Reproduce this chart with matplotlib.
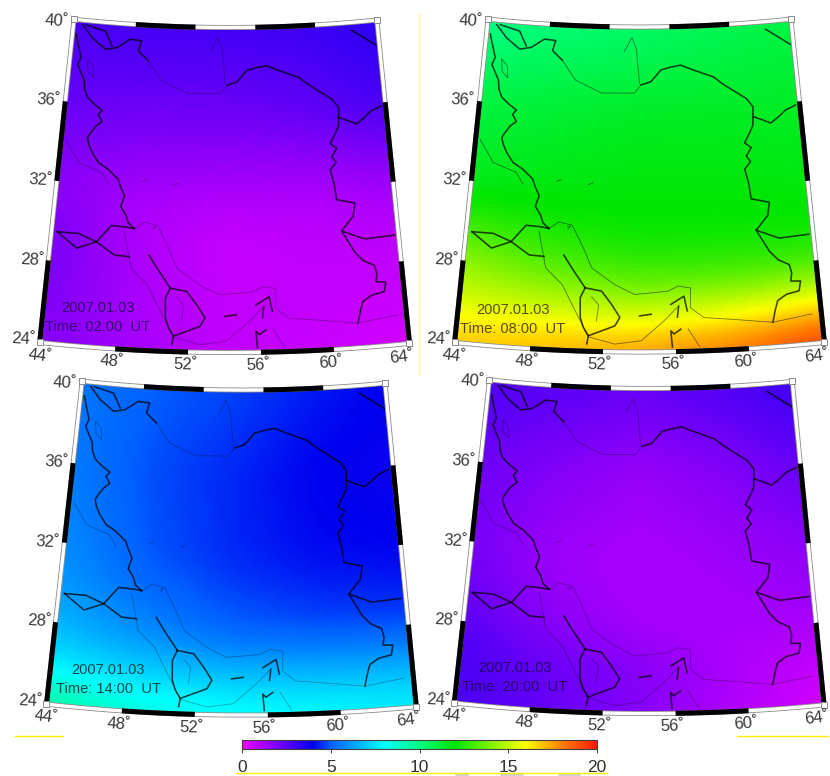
import numpy as np
import matplotlib
matplotlib.use("Agg")
import matplotlib.pyplot as plt
from matplotlib.colors import LinearSegmentedColormap, Normalize
from matplotlib.cm import ScalarMappable

plt.rcParams['font.family'] = ['Liberation Sans', 'DejaVu Sans']

# TEC-like field, rows follow grid_lat, columns grid_lon
grid_lat = [24, 26, 28, 30, 32, 36, 40]
grid_lon = [44, 49, 54, 59, 64]
field_0200 = [[1.8, 1.3, 0.8, 0.7, 0.5],
              [1.9, 1.2, 0.8, 0.8, 0.7],
              [2.0, 1.2, 0.7, 0.8, 0.8],
              [1.9, 1.1, 0.8, 0.9, 1.0],
              [1.7, 1.3, 1.2, 1.2, 1.4],
              [2.3, 2.2, 2.2, 2.4, 2.8],
              [2.8, 2.9, 2.9, 3.0, 3.3]]
field_0800 = [[16.9, 17.2, 17.6, 18.2, 19.3],
              [15.4, 15.2, 15.0, 15.4, 16.0],
              [14.2, 13.4, 12.9, 12.9, 13.0],
              [12.8, 12.3, 12.1, 12.1, 12.1],
              [11.6, 11.8, 11.9, 11.9, 11.8],
              [11.0, 11.2, 11.4, 11.4, 11.4],
              [9.9, 10.2, 10.4, 10.7, 10.9]]
field_1400 = [[9.6, 8.6, 8.2, 8.0, 7.8],
              [7.6, 7.1, 6.7, 6.6, 6.5],
              [6.6, 5.8, 5.1, 4.9, 4.8],
              [6.1, 5.2, 4.7, 4.4, 4.3],
              [5.8, 4.9, 4.4, 4.1, 4.0],
              [5.5, 4.8, 4.4, 4.0, 3.8],
              [5.4, 5.0, 4.7, 4.3, 4.0]]
field_2000 = [[2.8, 2.3, 1.8, 1.1, 0.5],
              [2.8, 2.3, 1.8, 1.2, 0.8],
              [2.5, 1.8, 1.3, 1.2, 1.2],
              [2.2, 1.5, 1.2, 1.3, 1.5],
              [2.0, 1.4, 1.2, 1.4, 1.7],
              [2.2, 1.8, 1.5, 1.8, 2.3],
              [2.7, 2.5, 2.3, 2.6, 3.0]]
fields = [field_0200, field_0800, field_1400, field_2000]
time_labels = ['02:00', '08:00', '14:00', '20:00']
date_label = '2007.01.03'

# borders, (lon, lat)
iran_west = [(44.1, 39.4), (44.3, 38.9), (44.57, 38.26), (44.4, 37.9), (44.6, 37.6), (44.92, 37.14),
             (45.0, 36.7), (45.22, 36.32), (45.7, 36.0), (46.22, 35.73), (46.0, 35.5), (46.27, 35.16),
             (45.9, 34.9), (45.61, 34.54), (45.45, 34.3), (45.58, 33.96), (45.85, 33.55), (46.27, 33.1),
             (46.9, 32.8), (47.53, 32.35), (47.7, 32.0), (47.98, 31.54), (47.8, 31.0), (48.15, 30.56),
             (48.3, 30.2), (48.68, 29.93)]
aras = [(44.46, 39.9), (45.2, 39.28), (46.12, 38.78), (46.87, 38.91), (47.7, 39.37),
        (48.45, 39.33), (48.28, 38.82), (48.96, 38.36)]
caucasus = [(44.7, 39.91), (46.02, 39.68), (46.53, 38.97)]
turkmen = [(54.1, 37.23), (54.74, 37.39), (55.39, 37.97), (56.0, 38.1), (56.68, 38.19), (57.52, 37.92),
           (58.78, 37.54), (59.3, 37.2), (59.8, 36.92), (60.8, 36.37), (61.19, 35.93), (61.14, 35.44),
           (61.7, 35.25), (62.23, 35.05), (62.7, 35.3), (63.22, 35.63), (63.87, 35.83)]
iran_east = [(61.14, 35.44), (61.1, 35.0), (60.86, 34.64), (60.51, 34.16), (60.9, 33.9), (60.56, 33.5),
             (60.8, 33.2), (60.41, 32.85), (60.6, 32.1), (60.68, 31.34), (61.75, 31.11), (61.59, 30.46),
             (60.85, 29.76), (61.2, 29.2), (61.53, 28.66), (62.0, 28.2), (62.6, 27.92), (62.7, 27.5),
             (62.61, 27.09), (63.16, 27.05), (63.03, 26.57), (62.3, 26.45), (61.78, 26.17), (61.6, 25.7),
             (61.42, 25.11)]
afghan_pak = [(60.85, 29.76), (62.16, 29.28), (63.9, 29.34)]
top_right = [(62.41, 39.74), (63.95, 38.87)]
iraq_saudi = [(44.19, 29.47), (45.41, 28.75), (46.52, 29.15), (47.32, 30.02), (48.19, 29.99),
              (48.68, 29.93)]
kuwait = [(44.19, 29.47), (45.44, 29.49), (46.52, 29.15), (47.62, 28.55), (48.48, 28.52)]
gulf_arm = [(49.62, 28.64), (50.12, 28.0), (50.52, 27.52), (50.91, 27.04)]
peninsula = [(50.91, 27.04), (51.85, 26.9), (52.43, 26.24), (52.9, 25.6), (52.63, 25.17),
             (51.17, 24.65), (50.88, 25.06), (50.69, 25.55), (50.65, 26.54), (50.91, 27.04)]
peninsula_s = [(51.17, 24.65), (51.1, 24.24)]
island = [(54.0, 25.68), (54.65, 25.76)]
hormuz = [(55.76, 26.24), (56.51, 26.64), (56.68, 25.9)]
hormuz_b = [(56.2, 26.15), (56.12, 25.6)]
oman = [(55.81, 24.1), (55.74, 24.92), (55.91, 24.76), (56.29, 24.99)]
thick_lines = [iran_west, aras, caucasus, turkmen, iran_east, afghan_pak, top_right, iraq_saudi,
               kuwait, gulf_arm, peninsula, peninsula_s, island, hormuz, hormuz_b, oman]

coast_north = [(48.68, 29.93), (49.24, 30.28), (50.03, 30.15), (50.65, 29.18), (51.26, 28.04),
               (52.6, 27.23), (53.72, 26.75), (55.59, 26.9), (56.2, 27.15), (56.9, 27.04), (56.87, 26.05),
               (57.59, 25.54), (59.05, 25.4), (61.42, 25.11), (63.64, 25.36)]
coast_south = [(48.11, 29.74), (48.61, 27.95), (49.6, 27.16), (50.2, 26.19), (50.8, 25.22),
               (51.17, 24.6), (52.64, 24.26), (54.1, 24.44), (55.38, 25.43), (56.13, 26.1)]
caspian = [(48.96, 38.36), (49.87, 37.4), (51.58, 36.8), (53.68, 36.82), (54.1, 37.23)]
caspian_e = [(53.0, 38.9), (53.5, 39.6), (53.8, 39.0), (54.0, 37.3)]
tigris = [(44.14, 34.09), (45.07, 33.01), (46.51, 32.62), (46.96, 32.07)]
urmia = [(45.0, 38.2), (45.4, 37.9), (45.5, 37.3), (45.1, 37.6), (45.0, 38.2)]
lake_a = [(49.75, 30.05), (49.95, 30.1), (49.8, 29.95)]
lake_b = [(49.0, 32.3), (49.25, 32.4)]
lake_c = [(50.9, 32.2), (51.2, 32.3)]
qatar_in = [(51.3, 26.6), (51.7, 26.2), (51.6, 25.4)]
oman_in = [(56.7, 25.0), (57.3, 24.1)]
faint_lines = [coast_north, coast_south, caspian, caspian_e, tigris, urmia, lake_a, lake_b,
               lake_c, qatar_in, oman_in]

cbar_ticks = [0, 5, 10, 15, 20]
cmap_stops = [(0.0, '#f000ff'), (4.0, '#0000f0'), (5.0, '#0060ff'), (8.0, '#00ffff'),
              (10.0, '#00ff80'), (12.0, '#00e600'), (16.0, '#ffff00'), (18.0, '#ff8000'),
              (20.0, '#ff1800')]
tec_cmap = LinearSegmentedColormap.from_list('tec', [(v / 20.0, c) for v, c in cmap_stops], N=512)
norm = Normalize(0, 20)

# panel placement in pixels: dx, dy, rotation in degrees
panels = [(0, 0, 0.15), (414.5, -0.5, 0.0), (7.5, 362.5, 0.4), (415, 361, 0.3)]
text_pos = [(98, 308), (513, 310), (108, 670), (515, 668)]
text_colors = ['#35006e', '#5a4a00', '#004a4a', '#28006e']
faint_alpha = [0.3, 0.5, 0.3, 0.3]

grid_a = [(24, 28), (32, 36)]
grid_b = [(48, 52), (56, 60)]


def project(lon, lat, panel):
    """conic projection of lon/lat to figure pixels for one panel"""
    dx, dy, rot = panel
    lon = np.asarray(lon, dtype=float)
    lat = np.asarray(lat, dtype=float)
    r = 1471 + (40 - lat) * 20.0
    t = np.radians(0.583 * (lon - 54))
    x = 225 + r * np.sin(t)
    y = -1441 + r * np.cos(t)
    a = np.radians(rot)
    x2 = 225 + (x - 225) * np.cos(a) - (y - 180) * np.sin(a)
    y2 = 180 + (x - 225) * np.sin(a) + (y - 180) * np.cos(a)
    return x2 + dx, y2 + dy


def box_smooth(a, n=9):
    k = np.ones(n) / n
    p = np.pad(a, n // 2, mode='edge')
    p = np.apply_along_axis(lambda m: np.convolve(m, k, mode='same'), 0, p)
    p = np.apply_along_axis(lambda m: np.convolve(m, k, mode='same'), 1, p)
    return p[n // 2:-(n // 2), n // 2:-(n // 2)]


def fine_field(values, lon_f, lat_f):
    # only for smooth shading between the read grid points
    values = np.asarray(values, dtype=float)
    rows = np.array([np.interp(lon_f, grid_lon, row) for row in values])
    out = np.array([np.interp(lat_f, grid_lat, rows[:, j]) for j in range(len(lon_f))]).T
    return box_smooth(out)


def draw_frame(ax, panel):
    off_lon, off_lat = 0.15, 0.125
    edges = [(lambda s: (np.full_like(s, 44 - off_lon), s), 24 - off_lat, 40 + off_lat, grid_a),
             (lambda s: (np.full_like(s, 64 + off_lon), s), 24 - off_lat, 40 + off_lat, grid_a),
             (lambda s: (s, np.full_like(s, 40 + off_lat)), 44 - off_lon, 64 + off_lon, grid_b),
             (lambda s: (s, np.full_like(s, 24 - off_lat)), 44 - off_lon, 64 + off_lon, grid_b)]
    for func, lo, hi, blacks in edges:
        s = np.linspace(lo, hi, 40)
        x, y = project(*func(s), panel)
        ax.plot(x, y, color='#8a8a8a', lw=3.6, solid_capstyle='butt', zorder=3)
        ax.plot(x, y, color='white', lw=2.4, solid_capstyle='butt', zorder=3.1)
        for a, b in blacks:
            s = np.linspace(a, b, 12)
            x, y = project(*func(s), panel)
            ax.plot(x, y, color='black', lw=3.6, solid_capstyle='butt', zorder=3.2)
    for lon in (44 - off_lon, 64 + off_lon):
        for lat in (24 - off_lat, 40 + off_lat):
            x, y = project(lon, lat, panel)
            ax.scatter(x, y, marker='s', s=14, c='white', edgecolors='#8a8a8a', linewidths=0.7,
                       zorder=3.3)


fig = plt.figure(figsize=(8.3, 7.76), dpi=100)
ax = fig.add_axes([0, 0, 1, 1])
ax.set_xlim(0, 830)
ax.set_ylim(776, 0)
ax.axis('off')

lon_f = np.linspace(44, 64, 81)
lat_f = np.linspace(24, 40, 65)
lon_m, lat_m = np.meshgrid(lon_f, lat_f)

for i, panel in enumerate(panels):
    xm, ym = project(lon_m, lat_m, panel)
    ax.pcolormesh(xm, ym, fine_field(fields[i], lon_f, lat_f), cmap=tec_cmap, norm=norm,
                  shading='gouraud', zorder=1)

    for line in faint_lines:
        lons, lats = zip(*line)
        x, y = project(lons, lats, panel)
        ax.plot(x, y, color='black', lw=0.6, alpha=faint_alpha[i], zorder=2)
    for line in thick_lines:
        lons, lats = zip(*line)
        x, y = project(lons, lats, panel)
        ax.plot(x, y, color='black', lw=1.15, alpha=0.72, zorder=2.1, solid_joinstyle='round')

    draw_frame(ax, panel)

    for lat in [24, 28, 32, 36, 40]:
        x, y = project(44, lat, panel)
        ax.text(x - 19, y - 1, '%d\u02da' % lat, fontsize=12, color='#383838', ha='center',
                va='center', rotation=-3, zorder=4)
    for lon in [44, 48, 52, 56, 60, 64]:
        x, y = project(lon, 24, panel)
        shift = 5 if lon == 64 else 3
        ax.text(x - shift, y + 15.5, '%d\u02da' % lon, fontsize=12, color='#383838', ha='center',
                va='center', rotation=(lon - 54) * 0.7, zorder=4)

    tx, ty = text_pos[i]
    ax.text(tx, ty, date_label, fontsize=10.5, color=text_colors[i], ha='center', va='center',
            zorder=4)
    ax.text(tx, ty + 19, 'Time: %s  UT' % time_labels[i], fontsize=10.5, color=text_colors[i],
            ha='center', va='center', zorder=4)

# stray marks from the scanned page
ax.plot([15, 63], [736, 736], color='#ffee00', lw=1, zorder=5)
ax.plot([737, 828], [736, 736], color='#ffee00', lw=1, zorder=5)
ax.plot([236, 607], [773, 773], color='#ffee00', lw=1, zorder=5)
ax.plot([418.5, 418.5], [13, 375], color='#fff3a0', lw=1, zorder=0.5)
ax.plot([606.5, 606.5], [735, 773], color='#fffbe0', lw=1, zorder=0.5)
for a, b in [(455, 468), (500, 523), (558, 580)]:
    ax.plot([a, b], [775, 775], color='#cfcfcf', lw=2.5, solid_capstyle='butt', zorder=0.5)

cax = fig.add_axes([242 / 830, 1 - 749 / 776, 355 / 830, 9.5 / 776])
cb = fig.colorbar(ScalarMappable(norm=norm, cmap=tec_cmap), cax=cax, orientation='horizontal',
                  ticks=cbar_ticks)
cb.outline.set_edgecolor('#404040')
cb.outline.set_linewidth(0.8)
cb.ax.tick_params(length=3, width=0.7, color='#404040', labelsize=12.5, labelcolor='#303030', pad=5)

fig.savefig('out.png', dpi=100)
